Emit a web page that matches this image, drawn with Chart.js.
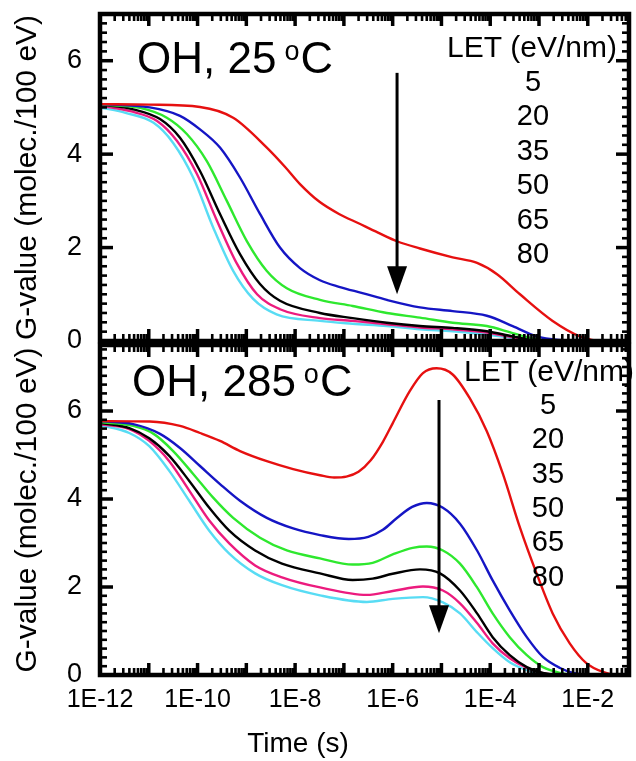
<!DOCTYPE html>
<html><head><meta charset="utf-8">
<script src="https://cdn.jsdelivr.net/npm/chart.js@4.4.1/dist/chart.umd.min.js"></script>
<style>
html,body{margin:0;padding:0;background:#fff;}
#wrap{position:relative;width:636px;height:761px;overflow:hidden;}
canvas{position:absolute;left:0;top:0;}
</style>
</head><body>
<div id="wrap"><canvas id="c1" width="636" height="761"></canvas><canvas id="c2" width="636" height="761"></canvas></div>
<script>
// ---- data ----
const xTickValues = [1e-12, 1e-10, 1e-8, 1e-6, 1e-4, 1e-2];
const xTickLabels = ['1E-12', '1E-10', '1E-8', '1E-6', '1E-4', '1E-2'];
const yTickValues = [0, 2, 4, 6];
const letLabels = ['5', '20', '35', '50', '65', '80'];
const seriesColors = ['#e61010', '#1515c4', '#2ee82e', '#000000', '#ec1b7e', '#58dcf4'];
const xMin = 1e-12, xMax = 0.07;

// Top panel: OH, 25 oC   points are [log10(time / s), G-value]
const top5  = [[-12,5.07],[-11,5.06],[-9.95,5.01],[-9.27,4.78],[-8.58,4.14],[-8.2,3.72],[-7.9,3.36],[-7.5,2.98],[-7.1,2.72],[-6.7,2.52],[-6.3,2.32],[-5.9,2.13],[-5.44,1.98],[-4.77,1.79],[-4.27,1.67],[-3.86,1.43],[-3.39,1.0],[-2.72,0.43],[-2.16,0.1],[-1.69,0],[-1.16,0]];
const top20 = [[-12,5.07],[-10.98,5.0],[-10.36,4.82],[-9.95,4.53],[-9.54,4.14],[-9.13,3.5],[-8.72,2.72],[-8.31,2.0],[-7.9,1.56],[-7.49,1.3],[-7.1,1.16],[-6.6,1.02],[-6.12,0.88],[-5.44,0.72],[-4.77,0.64],[-4.07,0.54],[-3.54,0.32],[-3.05,0.1],[-2.57,0.02],[-2,0],[-1.16,0]];
const top35 = [[-12,5.06],[-11.18,4.99],[-10.63,4.78],[-10.22,4.43],[-9.81,3.85],[-9.4,3.0],[-8.99,2.14],[-8.58,1.5],[-8.17,1.13],[-7.49,0.88],[-6.82,0.75],[-6.12,0.6],[-5.44,0.5],[-4.77,0.39],[-4.07,0.32],[-3.54,0.17],[-3.05,0.04],[-2.5,0],[-1.16,0]];
const top50 = [[-12,5.06],[-11.32,4.96],[-10.77,4.75],[-10.36,4.35],[-9.95,3.64],[-9.54,2.72],[-9.13,1.86],[-8.72,1.22],[-8.31,0.86],[-7.49,0.6],[-6.82,0.49],[-6.12,0.39],[-5.44,0.32],[-4.77,0.28],[-4.07,0.21],[-3.54,0.1],[-3.1,0.02],[-2.5,0],[-1.16,0]];
const top65 = [[-12,5.04],[-11.38,4.92],[-10.83,4.71],[-10.42,4.28],[-10.01,3.57],[-9.6,2.57],[-9.19,1.65],[-8.78,1.0],[-8.31,0.68],[-7.49,0.49],[-6.82,0.43],[-6.12,0.36],[-5.44,0.29],[-4.77,0.25],[-4.07,0.18],[-3.54,0.08],[-3.1,0.02],[-2.5,0],[-1.16,0]];
const top80 = [[-12,5.0],[-11.46,4.88],[-10.9,4.67],[-10.5,4.24],[-10.09,3.5],[-9.68,2.43],[-9.27,1.5],[-8.86,0.9],[-8.38,0.57],[-7.49,0.43],[-6.82,0.37],[-6.12,0.32],[-5.44,0.25],[-4.77,0.21],[-4.07,0.14],[-3.54,0.06],[-3.1,0.01],[-2.5,0],[-1.16,0]];

// Bottom panel: OH, 285 oC
const bot5  = [[-12,5.77],[-10.98,5.76],[-10.36,5.66],[-9.95,5.5],[-9.54,5.32],[-9.13,5.09],[-8.58,4.86],[-8.04,4.68],[-7.49,4.54],[-7.2,4.49],[-6.95,4.51],[-6.7,4.62],[-6.45,4.88],[-6.2,5.3],[-6.0,5.72],[-5.65,6.45],[-5.38,6.86],[-5.1,6.97],[-4.77,6.83],[-4.42,6.29],[-4.07,5.54],[-3.74,4.57],[-3.39,3.35],[-3.05,2.31],[-2.72,1.4],[-2.37,0.72],[-2.03,0.27],[-1.69,0.07],[-1.4,0],[-1.16,0]];
const bot20 = [[-12,5.77],[-11.32,5.7],[-10.77,5.48],[-10.36,5.16],[-9.95,4.75],[-9.54,4.34],[-9.13,3.96],[-8.58,3.57],[-8.04,3.33],[-7.49,3.18],[-6.9,3.09],[-6.5,3.14],[-6.2,3.3],[-5.9,3.58],[-5.6,3.82],[-5.3,3.91],[-4.97,3.8],[-4.62,3.44],[-4.27,2.83],[-3.95,2.15],[-3.6,1.47],[-3.25,0.86],[-2.92,0.41],[-2.57,0.16],[-2.3,0.05],[-1.9,0],[-1.16,0]];
const bot35 = [[-12,5.75],[-11.32,5.66],[-10.9,5.48],[-10.5,5.09],[-10.09,4.57],[-9.68,4.03],[-9.27,3.57],[-8.72,3.12],[-8.17,2.83],[-7.49,2.65],[-6.82,2.51],[-6.41,2.55],[-6.0,2.74],[-5.59,2.89],[-5.3,2.92],[-4.97,2.83],[-4.62,2.53],[-4.27,1.99],[-3.95,1.4],[-3.6,0.86],[-3.25,0.45],[-2.92,0.18],[-2.57,0.05],[-2.2,0],[-1.16,0]];
const bot50 = [[-12,5.73],[-11.4,5.61],[-10.99,5.38],[-10.58,4.98],[-10.17,4.41],[-9.76,3.8],[-9.35,3.28],[-8.82,2.83],[-8.27,2.53],[-7.49,2.31],[-6.82,2.16],[-6.41,2.19],[-6.0,2.3],[-5.44,2.4],[-5.03,2.31],[-4.62,1.92],[-4.27,1.4],[-3.95,0.86],[-3.6,0.45],[-3.25,0.18],[-2.92,0.05],[-2.5,0],[-1.16,0]];
const bot65 = [[-12,5.7],[-11.4,5.59],[-10.99,5.32],[-10.58,4.86],[-10.17,4.19],[-9.76,3.51],[-9.35,2.99],[-8.82,2.49],[-8.27,2.22],[-7.49,1.99],[-6.53,1.82],[-6.0,1.91],[-5.38,2.01],[-4.97,1.92],[-4.62,1.63],[-4.27,1.18],[-3.95,0.72],[-3.6,0.38],[-3.25,0.16],[-2.92,0.04],[-2.5,0],[-1.16,0]];
const bot80 = [[-12,5.68],[-11.4,5.5],[-10.99,5.2],[-10.58,4.64],[-10.17,3.96],[-9.76,3.28],[-9.35,2.76],[-8.82,2.31],[-8.27,2.04],[-7.49,1.81],[-6.53,1.66],[-6.0,1.73],[-5.38,1.77],[-4.97,1.65],[-4.62,1.4],[-4.27,0.97],[-3.95,0.61],[-3.6,0.29],[-3.25,0.11],[-2.92,0.02],[-2.5,0],[-1.16,0]];

const topSeries = [top5, top20, top35, top50, top65, top80];
const botSeries = [bot5, bot20, bot35, bot50, bot65, bot80];

// arrows in data units: [log10 time, yStart, yEnd]
const topArrow = [-5.91, 5.74, 1.0];
const botArrow = [-5.05, 6.25, 0.95];

// ---- rendering ----
const FONT = "'Liberation Sans', Arial, Helvetica, sans-serif";
Chart.defaults.font.family = FONT;
Chart.defaults.color = '#000';

function toPoints(arr) { return arr.map(p => ({ x: Math.pow(10, p[0]), y: p[1] })); }
function makeDatasets(series) {
  return series.map((s, i) => ({
    label: letLabels[i], data: toPoints(s), borderColor: seriesColors[i],
    borderWidth: 2.4, pointRadius: 0, fill: false, cubicInterpolationMode: 'monotone'
  }));
}

function line(ctx, x1, y1, x2, y2) { ctx.beginPath(); ctx.moveTo(x1, y1); ctx.lineTo(x2, y2); ctx.stroke(); }

const framePlugin = {
  id: 'frame',
  afterDatasetsDraw(chart) {
    const { ctx, chartArea: a, scales: { x, y } } = chart;
    ctx.save();
    ctx.strokeStyle = '#000';
    ctx.lineCap = 'butt';
    for (let e = -12; e <= -1; e++) {
      for (let m = 1; m < 10; m++) {
        const v = m * Math.pow(10, e);
        if (v < xMin * 0.999 || v > xMax) continue;
        const px = x.getPixelForValue(v);
        const major = m === 1;
        ctx.lineWidth = major ? 3.5 : 2.6;
        const len = major ? 12 : 7;
        line(ctx, px, a.bottom, px, a.bottom - len);
        line(ctx, px, a.top, px, a.top + len);
      }
    }
    for (let k = 0; k * 0.2 <= y.max + 1e-9; k++) {
      const v = k * 0.2;
      const py = y.getPixelForValue(v);
      const major = k % 10 === 0;
      ctx.lineWidth = major ? 3.5 : 2.6;
      const len = major ? 13 : 7;
      line(ctx, a.left, py, a.left + len, py);
      line(ctx, a.right, py, a.right - len, py);
    }
    ctx.lineWidth = 4.5;
    ctx.strokeRect(a.left, a.top, a.width, a.height);
    ctx.restore();
  }
};

const annotPlugin = {
  id: 'annot',
  afterDraw(chart, args, opts) {
    const { ctx, scales: { x, y } } = chart;
    ctx.save();
    ctx.fillStyle = '#000';
    ctx.textBaseline = 'alphabetic';
    // panel title "OH, T oC"
    let tx = opts.titleX;
    ctx.textAlign = 'left';
    ctx.font = '44px ' + FONT;
    const main = 'OH, ' + opts.temp;
    ctx.fillText(main, tx, opts.titleY);
    tx += ctx.measureText(main).width + 8;
    ctx.font = '27px ' + FONT;
    ctx.fillText('o', tx, opts.titleY - 13);
    tx += ctx.measureText('o').width + 1;
    ctx.font = '45px ' + FONT;
    ctx.fillText('C', tx, opts.titleY);
    // legend text
    ctx.font = '30px ' + FONT;
    ctx.fillText('LET (eV/nm)', opts.letX, opts.letY);
    ctx.textAlign = 'center';
    ctx.font = '29px ' + FONT;
    letLabels.forEach((t, i) => ctx.fillText(t, opts.numX, opts.numY + i * opts.numStep));
    // x-axis title (bottom panel only)
    if (opts.xTitle) {
      ctx.font = '28px ' + FONT;
      ctx.textAlign = 'center';
      ctx.fillText(opts.xTitle, opts.xTitleX, opts.xTitleY);
    }
    // arrow
    const ar = opts.arrow;
    const ax = x.getPixelForValue(Math.pow(10, ar[0]));
    const y1 = y.getPixelForValue(ar[1]);
    const y2 = y.getPixelForValue(ar[2]);
    ctx.strokeStyle = '#000';
    ctx.lineWidth = 3;
    line(ctx, ax, y1, ax, y2 - 20);
    ctx.beginPath();
    ctx.moveTo(ax - 10, y2 - 28);
    ctx.lineTo(ax + 10, y2 - 28);
    ctx.lineTo(ax, y2);
    ctx.closePath();
    ctx.fill();
    ctx.restore();
  }
};

function yScale(max) {
  return {
    type: 'linear', min: 0, max: max,
    afterBuildTicks: s => { s.ticks = yTickValues.map(v => ({ value: v })); },
    afterFit: s => { s.width = 100; s.paddingTop = 0; s.paddingBottom = 0; },
    grid: { display: false, drawTicks: false },
    border: { display: false },
    ticks: { font: { size: 27 }, padding: 18, color: '#000' },
    title: { display: true, text: 'G-value (molec./100 eV)', font: { size: 30 }, padding: { top: 10, bottom: 0 }, color: '#000' }
  };
}

function xScale(show) {
  const o = {
    type: 'logarithmic', min: xMin, max: xMax, display: show,
    afterBuildTicks: s => { s.ticks = xTickValues.map(v => ({ value: v })); },
    grid: { display: false, drawTicks: false },
    border: { display: false },
    ticks: {
      font: { size: 25 }, padding: 10, color: '#000', autoSkip: false, maxRotation: 0,
      callback: v => { const i = xTickValues.findIndex(t => Math.abs(Math.log10(t) - Math.log10(v)) < 1e-6); return i >= 0 ? xTickLabels[i] : ''; }
    },
    title: { display: false }
  };
  o.afterFit = s => { if (show) s.height = 86; s.paddingLeft = 0; s.paddingRight = 0; };
  return o;
}

const common = {
  responsive: false, animation: false, devicePixelRatio: 1,
  plugins: { legend: { display: false }, tooltip: { enabled: false } }
};

new Chart(document.getElementById('c1'), {
  type: 'line',
  data: { datasets: makeDatasets(topSeries) },
  options: Object.assign({}, common, {
    layout: { padding: { top: 14, right: 7, bottom: 420, left: 0 } },
    scales: { x: xScale(false), y: yScale(7) },
    plugins: Object.assign({}, common.plugins, {
      annot: { temp: '25', titleX: 137, titleY: 73, letX: 447, letY: 57, numX: 533, numY: 91, numStep: 34.4, arrow: topArrow }
    })
  }),
  plugins: [framePlugin, annotPlugin]
});

new Chart(document.getElementById('c2'), {
  type: 'line',
  data: { datasets: makeDatasets(botSeries) },
  options: Object.assign({}, common, {
    layout: { padding: { top: 345, right: 7, bottom: 0, left: 0 } },
    scales: { x: xScale(true), y: yScale(7.5) },
    plugins: Object.assign({}, common.plugins, {
      annot: { temp: '285', titleX: 132, titleY: 396, letX: 464, letY: 381, numX: 548, numY: 414, numStep: 34.3, arrow: botArrow,
               xTitle: 'Time (s)', xTitleX: 298, xTitleY: 752 }
    })
  }),
  plugins: [framePlugin, annotPlugin]
});
</script>
</body></html>
